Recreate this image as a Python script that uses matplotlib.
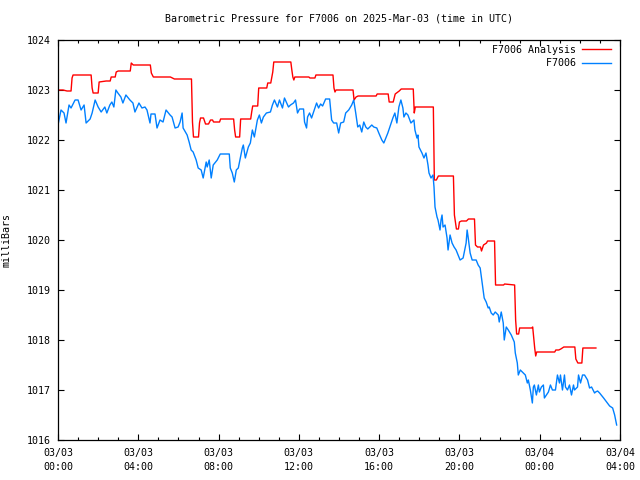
import matplotlib
matplotlib.use("Agg")
import matplotlib.pyplot as plt
from matplotlib.ticker import MultipleLocator, FixedLocator

title = "Barometric Pressure for F7006 on 2025-Mar-03 (time in UTC)"
ylabel = "milliBars"
series_names = ["F7006 Analysis", "F7006"]
series_colors = ["#ff0000", "#0080ff"]

# minutes since 2025-03-03 00:00 UTC, pressure in mbar
analysis = [
    (0, 1023.00), (15, 1023.00), (27, 1022.98), (39, 1022.98), (42, 1023.24), (45, 1023.30),
    (99, 1023.30), (102, 1023.04), (105, 1022.94), (120, 1022.94), (123, 1023.16), (144, 1023.18),
    (156, 1023.18), (159, 1023.26), (171, 1023.26), (174, 1023.36), (180, 1023.38), (216, 1023.38),
    (219, 1023.54), (225, 1023.50), (276, 1023.50), (279, 1023.34), (285, 1023.26), (336, 1023.26),
    (342, 1023.24), (348, 1023.22), (399, 1023.22), (402, 1022.36), (405, 1022.06), (420, 1022.06),
    (423, 1022.34), (426, 1022.44), (435, 1022.44), (441, 1022.32), (450, 1022.32), (456, 1022.40),
    (462, 1022.40), (465, 1022.36), (483, 1022.36), (486, 1022.42), (525, 1022.42), (528, 1022.20),
    (531, 1022.06), (543, 1022.06), (546, 1022.42), (576, 1022.42), (579, 1022.56), (582, 1022.68),
    (597, 1022.68), (600, 1023.04), (624, 1023.04), (627, 1023.14), (636, 1023.14), (642, 1023.36),
    (645, 1023.56), (696, 1023.56), (699, 1023.40), (702, 1023.26), (705, 1023.20), (708, 1023.26),
    (750, 1023.26), (753, 1023.24), (768, 1023.24), (771, 1023.30), (822, 1023.30), (825, 1023.04),
    (828, 1022.96), (831, 1023.00), (882, 1023.00), (885, 1022.80), (891, 1022.86), (897, 1022.88),
    (951, 1022.88), (954, 1022.92), (987, 1022.92), (990, 1022.76), (1002, 1022.76), (1008, 1022.92),
    (1020, 1022.98), (1026, 1023.02), (1062, 1023.02), (1065, 1022.54), (1068, 1022.66), (1122, 1022.66),
    (1125, 1021.20), (1131, 1021.20), (1137, 1021.28), (1182, 1021.28), (1185, 1020.50), (1191, 1020.22),
    (1197, 1020.22), (1200, 1020.36), (1206, 1020.38), (1221, 1020.38), (1227, 1020.42), (1245, 1020.42),
    (1248, 1019.90), (1254, 1019.86), (1263, 1019.86), (1266, 1019.78), (1272, 1019.90), (1281, 1019.94),
    (1284, 1019.98), (1305, 1019.98), (1308, 1019.10), (1332, 1019.10), (1335, 1019.12), (1365, 1019.10),
    (1368, 1018.40), (1371, 1018.12), (1377, 1018.12), (1380, 1018.24), (1416, 1018.24), (1419, 1018.26),
    (1425, 1017.84), (1428, 1017.68), (1431, 1017.76), (1485, 1017.76), (1488, 1017.80), (1497, 1017.80),
    (1503, 1017.82), (1512, 1017.86), (1545, 1017.86), (1548, 1017.62), (1554, 1017.54), (1566, 1017.54),
    (1569, 1017.84), (1608, 1017.84),
]

observed = [
    (0, 1022.30), (9, 1022.60), (18, 1022.54), (24, 1022.34), (33, 1022.70), (39, 1022.64),
    (51, 1022.80), (60, 1022.80), (69, 1022.60), (78, 1022.70), (84, 1022.34), (96, 1022.42),
    (102, 1022.54), (111, 1022.80), (120, 1022.66), (129, 1022.56), (140, 1022.66), (146, 1022.54),
    (155, 1022.70), (161, 1022.76), (167, 1022.66), (173, 1023.00), (179, 1022.94), (188, 1022.86),
    (194, 1022.74), (203, 1022.90), (215, 1022.80), (224, 1022.74), (230, 1022.56), (242, 1022.74),
    (251, 1022.64), (260, 1022.66), (266, 1022.60), (275, 1022.34), (278, 1022.52), (290, 1022.52),
    (296, 1022.24), (305, 1022.40), (314, 1022.36), (323, 1022.60), (335, 1022.50), (341, 1022.46),
    (350, 1022.24), (359, 1022.26), (365, 1022.36), (371, 1022.54), (374, 1022.24), (386, 1022.10),
    (392, 1021.96), (398, 1021.80), (404, 1021.76), (413, 1021.60), (419, 1021.44), (428, 1021.40),
    (434, 1021.24), (443, 1021.56), (446, 1021.46), (452, 1021.60), (458, 1021.24), (464, 1021.50),
    (476, 1021.60), (485, 1021.72), (512, 1021.72), (515, 1021.44), (521, 1021.34), (527, 1021.16),
    (533, 1021.40), (539, 1021.44), (545, 1021.64), (551, 1021.84), (554, 1021.90), (560, 1021.64),
    (569, 1021.86), (575, 1021.94), (581, 1022.20), (587, 1022.06), (596, 1022.40), (602, 1022.50),
    (608, 1022.34), (614, 1022.46), (623, 1022.54), (635, 1022.56), (641, 1022.70), (647, 1022.80),
    (656, 1022.66), (662, 1022.80), (671, 1022.64), (677, 1022.84), (689, 1022.66), (695, 1022.70),
    (704, 1022.74), (710, 1022.80), (716, 1022.54), (722, 1022.62), (734, 1022.62), (737, 1022.36),
    (743, 1022.24), (746, 1022.46), (752, 1022.54), (758, 1022.44), (764, 1022.56), (773, 1022.74),
    (779, 1022.64), (785, 1022.72), (791, 1022.68), (800, 1022.82), (812, 1022.82), (818, 1022.40),
    (824, 1022.34), (833, 1022.34), (839, 1022.14), (845, 1022.34), (854, 1022.36), (860, 1022.54),
    (869, 1022.60), (878, 1022.70), (884, 1022.80), (890, 1022.54), (896, 1022.26), (902, 1022.30),
    (908, 1022.16), (914, 1022.36), (920, 1022.26), (926, 1022.22), (938, 1022.30), (944, 1022.26),
    (953, 1022.24), (959, 1022.14), (968, 1022.00), (974, 1021.94), (980, 1022.04), (986, 1022.14),
    (992, 1022.26), (1001, 1022.44), (1007, 1022.54), (1013, 1022.34), (1019, 1022.66), (1025, 1022.80),
    (1031, 1022.64), (1034, 1022.46), (1040, 1022.54), (1046, 1022.50), (1055, 1022.34), (1064, 1022.40),
    (1067, 1022.20), (1073, 1022.04), (1076, 1022.10), (1079, 1021.86), (1088, 1021.74), (1094, 1021.64),
    (1100, 1021.74), (1106, 1021.50), (1109, 1021.34), (1115, 1021.24), (1121, 1021.30), (1124, 1021.06),
    (1127, 1020.66), (1133, 1020.46), (1136, 1020.40), (1142, 1020.20), (1145, 1020.40), (1148, 1020.50),
    (1151, 1020.26), (1157, 1020.30), (1163, 1020.04), (1166, 1019.80), (1172, 1020.10), (1178, 1019.94),
    (1184, 1019.86), (1190, 1019.80), (1196, 1019.70), (1202, 1019.60), (1211, 1019.64), (1214, 1019.74),
    (1220, 1019.94), (1223, 1020.20), (1226, 1020.06), (1232, 1019.74), (1238, 1019.60), (1250, 1019.60),
    (1256, 1019.50), (1262, 1019.44), (1268, 1019.14), (1274, 1018.84), (1280, 1018.76), (1286, 1018.64),
    (1289, 1018.66), (1295, 1018.54), (1301, 1018.50), (1307, 1018.56), (1316, 1018.50), (1319, 1018.36),
    (1325, 1018.56), (1331, 1018.34), (1334, 1018.00), (1340, 1018.26), (1346, 1018.20), (1355, 1018.10),
    (1364, 1017.96), (1367, 1017.74), (1373, 1017.54), (1376, 1017.30), (1382, 1017.40), (1391, 1017.34),
    (1397, 1017.30), (1403, 1017.14), (1406, 1017.20), (1412, 1017.00), (1418, 1016.74), (1421, 1017.06),
    (1424, 1017.10), (1430, 1016.90), (1436, 1017.10), (1439, 1016.96), (1445, 1017.06), (1451, 1017.10),
    (1454, 1016.84), (1460, 1016.90), (1466, 1016.96), (1472, 1017.10), (1478, 1017.00), (1487, 1017.00),
    (1493, 1017.30), (1499, 1017.14), (1502, 1017.30), (1508, 1017.00), (1514, 1017.30), (1517, 1017.06),
    (1523, 1017.00), (1529, 1017.10), (1535, 1016.90), (1541, 1017.10), (1544, 1017.00), (1553, 1017.06),
    (1556, 1017.30), (1562, 1017.14), (1568, 1017.30), (1574, 1017.30), (1583, 1017.20), (1589, 1017.04),
    (1595, 1017.06), (1604, 1016.94), (1607, 1016.96), (1613, 1016.98), (1619, 1016.94), (1631, 1016.84),
    (1640, 1016.76), (1649, 1016.68), (1658, 1016.64), (1664, 1016.50), (1670, 1016.30),
]

xtick_minutes = [0, 240, 480, 720, 960, 1200, 1440, 1680]
xtick_labels = ["03/03\n00:00", "03/03\n04:00", "03/03\n08:00", "03/03\n12:00",
                "03/03\n16:00", "03/03\n20:00", "03/04\n00:00", "03/04\n04:00"]
yticks = [1016, 1017, 1018, 1019, 1020, 1021, 1022, 1023, 1024]

FONT = "DejaVu Sans Mono"
FS = 7.2
plt.rcParams["font.family"] = FONT
plt.rcParams["font.size"] = FS

fig = plt.figure(figsize=(6.4, 4.8), dpi=100)
ax = fig.add_axes([58 / 640, 40 / 480, 562 / 640, 400 / 480])

ax_t, ax_p = zip(*analysis)
ob_t, ob_p = zip(*observed)
ax.plot(ax_t, ax_p, color=series_colors[0], lw=1.0, label=series_names[0].rjust(14))
ax.plot(ob_t, ob_p, color=series_colors[1], lw=1.0, label=series_names[1].rjust(14))

ax.set_xlim(0, 1680)
ax.set_ylim(1016, 1024)
ax.xaxis.set_major_locator(FixedLocator(xtick_minutes))
ax.set_xticklabels(xtick_labels, linespacing=1.45)
ax.xaxis.set_minor_locator(MultipleLocator(60))
ax.set_yticks(yticks)
ax.set_yticklabels([str(v) for v in yticks])

ax.tick_params(which="both", direction="in", top=True, right=True, colors="black",
               labelsize=FS, width=0.8)
ax.tick_params(which="major", length=4.0)
ax.tick_params(which="minor", length=2.0)
ax.tick_params(axis="x", pad=6)
ax.tick_params(axis="y", pad=5)
for s in ax.spines.values():
    s.set_linewidth(0.9)
    s.set_color("black")

ax.set_title(title, fontsize=FS, pad=13)
ax.set_ylabel(ylabel, fontsize=FS, labelpad=11)

leg = ax.legend(loc="upper right", bbox_to_anchor=(1 - 9 / 562, 1 - 5 / 400),
                frameon=False, markerfirst=False, handlelength=2.9, handletextpad=0.6,
                labelspacing=0.35, borderpad=0, borderaxespad=0, fontsize=FS)

fig.savefig("out.png", dpi=100)
